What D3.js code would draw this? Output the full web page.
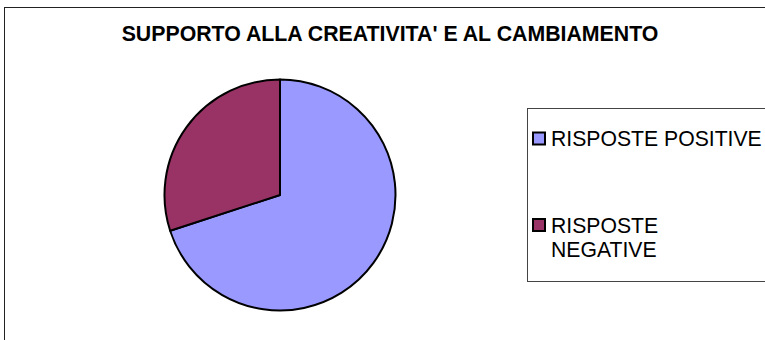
<!DOCTYPE html>
<html>
<head>
<meta charset="utf-8">
<script src="https://cdn.jsdelivr.net/npm/d3@7/dist/d3.min.js"></script>
<style>
  html, body { margin: 0; padding: 0; background: #fff; }
  svg { display: block; }
  text { font-family: "Liberation Sans", Arial, sans-serif; }
</style>
</head>
<body>
<svg id="chart" width="765" height="340"></svg>
<script>
const title = "SUPPORTO ALLA CREATIVITA' E AL CAMBIAMENTO";
const categories = ["RISPOSTE POSITIVE", "RISPOSTE NEGATIVE"];
const values = [70, 30];
const colors = ["#9999FF", "#993366"];

const svg = d3.select("#chart");
const W = 765, H = 340;

// outer chart frame (runs off the right and bottom edges)
svg.append("rect")
  .attr("x", 4.5).attr("y", 7.5)
  .attr("width", W + 20).attr("height", H + 20)
  .attr("fill", "#fff")
  .attr("stroke", "#222").attr("stroke-width", 1);

// title
svg.append("text")
  .attr("x", 390).attr("y", 40.5)
  .attr("text-anchor", "middle")
  .attr("font-size", 21.3)
  .attr("font-weight", "bold")
  .attr("fill", "#000")
  .text(title);

// pie
const cx = 280, cy = 195, r = 115.5;
const pie = d3.pie().sort(null).value(d => d)(values);
const arc = d3.arc().innerRadius(0).outerRadius(r);

svg.append("g")
  .attr("transform", `translate(${cx},${cy})`)
  .selectAll("path")
  .data(pie)
  .join("path")
  .attr("d", arc)
  .attr("fill", (d, i) => colors[i])
  .attr("stroke", "#000")
  .attr("stroke-width", 2)
  .attr("stroke-linejoin", "round");

// legend
const lg = svg.append("g");
lg.append("rect")
  .attr("x", 527.5).attr("y", 108.5)
  .attr("width", 260).attr("height", 173)
  .attr("fill", "#fff")
  .attr("stroke", "#444").attr("stroke-width", 1);

const legendY = d3.scaleOrdinal().domain(categories).range([146, 232.5]);
const maxTextW = 214;
const lineH = 24;

categories.forEach((c, i) => {
  const y = legendY(c);
  lg.append("rect")
    .attr("x", 533).attr("y", y - 13.5)
    .attr("width", 12).attr("height", 12)
    .attr("fill", colors[i])
    .attr("stroke", "#000").attr("stroke-width", 2);

  const t = lg.append("text")
    .attr("x", 551).attr("y", y)
    .attr("font-size", 21.2)
    .attr("fill", "#000");

  // simple word wrap against the legend width
  const words = c.split(" ");
  let line = [];
  let ts = t.append("tspan").attr("x", 551).attr("y", y);
  let lineNo = 0;
  words.forEach(w => {
    line.push(w);
    ts.text(line.join(" "));
    if (ts.node().getComputedTextLength() > maxTextW && line.length > 1) {
      line.pop();
      ts.text(line.join(" "));
      line = [w];
      lineNo++;
      ts = t.append("tspan").attr("x", 551).attr("y", y + lineNo * lineH).text(w);
    }
  });
});
</script>
</body>
</html>
